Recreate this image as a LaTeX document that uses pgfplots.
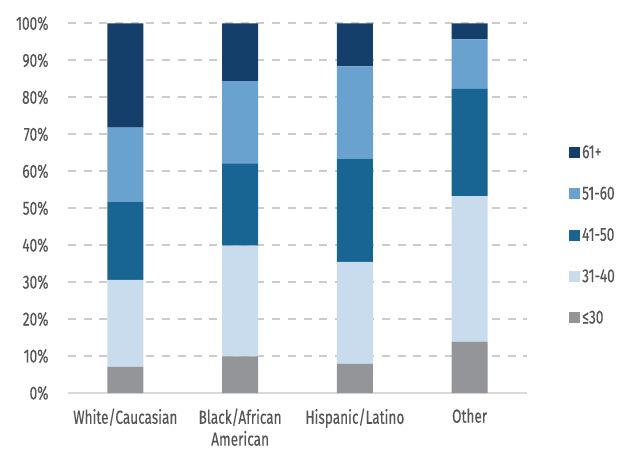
\documentclass[border=0pt]{standalone}
\usepackage{pgfplots}
\pgfplotsset{compat=1.18}
\usepackage{fontspec}
\setmainfont{Fira Sans}[FakeStretch=0.72, FakeBold=0.3]

\definecolor{cA}{HTML}{939598}
\definecolor{cB}{HTML}{C9DCEE}
\definecolor{cC}{HTML}{186593}
\definecolor{cD}{HTML}{69A1CF}
\definecolor{cE}{HTML}{143F6B}
\definecolor{txt}{HTML}{555555}

\begin{document}
\begin{tikzpicture}
\useasboundingbox (-68bp,-59bp) rectangle (553bp,393bp);
\begin{axis}[
  at={(0,0)}, anchor=south west,
  scale only axis,
  width=459bp, height=369.6bp,
  ybar stacked, bar width=36bp,
  xmin=-0.5, xmax=3.5,
  ymin=0, ymax=100,
  xtick=data,
  xticklabels={White/Caucasian, {Black/African\\American}, Hispanic/Latino, Other},
  xticklabel style={align=center, yshift=-12bp, font=\fontsize{19}{22}\selectfont, text=txt},
  ytick={0,10,...,100},
  yticklabel={\pgfmathprintnumber{\tick}\%},
  yticklabel style={font=\fontsize{19}{21}\selectfont, text=txt, xshift=-16bp},
  /pgf/number format/assume math mode=true,
  major tick length=0pt,
  axis lines*=left,
  y axis line style={draw=none},
  x axis line style={draw=black!15, line width=1.5bp},
  ymajorgrids,
  major grid style={draw=black!20, line width=2bp, dash pattern=on 8bp off 7.7bp},
  reverse legend,
  legend style={draw=none, fill=none, at={(1.085,0.427)}, anchor=west,
    font=\fontsize{19}{21}\selectfont, text=txt, row sep=23bp,
    /tikz/every even column/.append style={column sep=1bp}},
  legend cell align=left,
  legend image code/.code={\draw[#1, draw=none] (0bp,-5.5bp) rectangle (11bp,5.5bp);},
]
\addplot[fill=cA, draw=none] coordinates {(0,7.1) (1,9.9) (2,7.9) (3,13.9)};
\addlegendentry{≤30}
\addplot[fill=cB, draw=none] coordinates {(0,23.5) (1,30.0) (2,27.6) (3,39.4)};
\addlegendentry{31-40}
\addplot[fill=cC, draw=none] coordinates {(0,21.2) (1,22.2) (2,27.8) (3,29.0)};
\addlegendentry{41-50}
\addplot[fill=cD, draw=none] coordinates {(0,20.0) (1,22.3) (2,25.1) (3,13.4)};
\addlegendentry{51-60}
\addplot[fill=cE, draw=none] coordinates {(0,28.2) (1,15.6) (2,11.6) (3,4.3)};
\addlegendentry{61+}
\end{axis}
\end{tikzpicture}
\end{document}
